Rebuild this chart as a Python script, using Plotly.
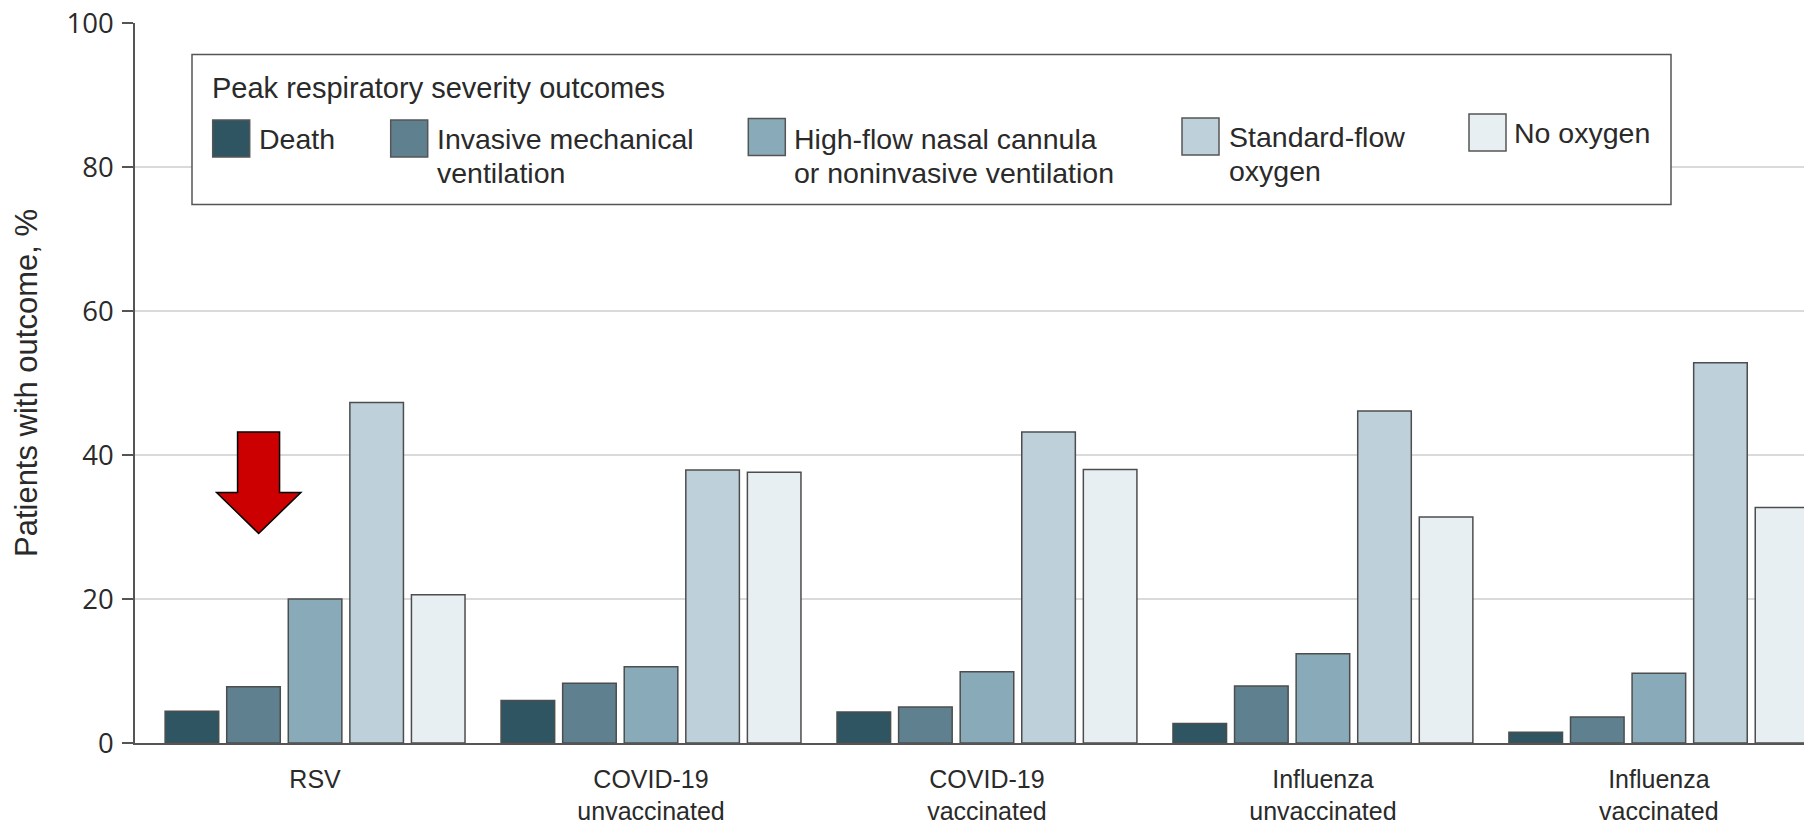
import plotly.graph_objects as go

# ---------------- data ----------------
categories = ["RSV", "COVID-19<br>unvaccinated", "COVID-19<br>vaccinated",
              "Influenza<br>unvaccinated", "Influenza<br>vaccinated"]
outcomes = ["Death", "Invasive mechanical ventilation",
            "High-flow nasal cannula or noninvasive ventilation",
            "Standard-flow oxygen", "No oxygen"]
death = [4.4, 5.9, 4.3, 2.7, 1.5]
invasive_ventilation = [7.8, 8.3, 5.0, 7.9, 3.6]
high_flow = [20.0, 10.6, 9.9, 12.4, 9.7]
standard_flow = [47.3, 37.9, 43.2, 46.1, 52.8]
no_oxygen = [20.6, 37.6, 38.0, 31.4, 32.7]
y_ticks = [0, 20, 40, 60, 80, 100]
legend_title = "Peak respiratory severity outcomes"
legend_lines = [["Death"], ["Invasive mechanical", "ventilation"],
                ["High-flow nasal cannula", "or noninvasive ventilation"],
                ["Standard-flow", "oxygen"], ["No oxygen"]]
y_title = "Patients with outcome, %"

# ---------------- style ----------------
colors = ["#2f5562", "#5f808f", "#89aab9", "#bed1db", "#e8eff2"]
edge = "#4d4d4d"
text_col = "#2a2a2a"
W, H = 1804, 827
ML, MR, MT, MB = 135, 0, 23, 84.3
PW, PH = W - ML - MR, H - MT - MB
cond_font = "Liberation Sans, Arial, sans-serif"


def px2x(px):
    return (px - ML) / PW


def px2y(py):
    return (H - MB - py) / PH


series = [death, invasive_ventilation, high_flow, standard_flow, no_oxygen]
xpos = list(range(len(categories)))

fig = go.Figure()
for name, vals, col in zip(outcomes, series, colors):
    fig.add_trace(go.Bar(x=xpos, y=vals, name=name,
                         marker=dict(color=col, line=dict(color=edge, width=1.5)),
                         showlegend=False))

shapes = []
annotations = []

# legend box
shapes.append(dict(type="rect", xref="paper", yref="paper",
                   x0=px2x(192), x1=px2x(1671), y0=px2y(204.5), y1=px2y(54.5),
                   line=dict(color="#555555", width=1.5), fillcolor="white", layer="above"))
annotations.append(dict(xref="paper", yref="paper", x=px2x(210), y=px2y(88),
                        xanchor="left", yanchor="middle", showarrow=False,
                        text=legend_title, font=dict(family=cond_font, size=29, color=text_col)))
sw_x = [212.7, 390.7, 748.3, 1182, 1469]
sw_top = [120, 120, 118.5, 118, 114]
sw = 37
tx_x = [257, 435, 792, 1227, 1512]
tx_mid = [139, 139, 139, 137, 133]
for i in range(len(outcomes)):
    shapes.append(dict(type="rect", xref="paper", yref="paper",
                       x0=px2x(sw_x[i]), x1=px2x(sw_x[i] + sw),
                       y0=px2y(sw_top[i] + sw), y1=px2y(sw_top[i]),
                       fillcolor=colors[i], line=dict(color="#555555", width=1.5),
                       layer="above"))
    for j, line in enumerate(legend_lines[i]):
        annotations.append(dict(xref="paper", yref="paper", x=px2x(tx_x[i]),
                                y=px2y(tx_mid[i] + 34 * j), xanchor="left", yanchor="middle",
                                showarrow=False, text=line,
                                font=dict(family=cond_font, size=28.5, color=text_col)))

# red arrow (data coordinates around the RSV group)
arrow_path = ("M -0.2307,43.2 L -0.1057,43.2 L -0.1057,34.8 L -0.0423,34.8 "
              "L -0.1679,29.1 L -0.2932,34.8 L -0.2307,34.8 Z")
shapes.append(dict(type="path", xref="x", yref="y", path=arrow_path,
                   fillcolor="#cc0000", line=dict(color="black", width=1.5), layer="above"))

fig.update_layout(
    width=W, height=H,
    margin=dict(l=ML, r=MR, t=MT, b=MB, pad=0),
    paper_bgcolor="white", plot_bgcolor="white",
    barmode="group", bargap=0.0835, bargroupgap=0.13,
    shapes=shapes, annotations=annotations,
    font=dict(family=cond_font, color=text_col),
)
fig.update_xaxes(range=[-0.536, 4.432], tickvals=xpos, ticktext=categories,
                 showline=True, linecolor="#555555", linewidth=1.5,
                 showgrid=False, zeroline=False, ticks="", automargin=False,
                 tickfont=dict(family=cond_font, size=25, color=text_col),
                 ticklabelstandoff=13)
fig.update_yaxes(range=[0, 100], tickvals=y_ticks, showgrid=True,
                 gridcolor="#dadada", gridwidth=2, zeroline=False,
                 showline=True, linecolor="#555555", linewidth=1.5,
                 ticks="outside", ticklen=11, tickcolor="#555555", tickwidth=1.5,
                 automargin=False,
                 tickfont=dict(family="Open Sans, DejaVu Sans, sans-serif", size=27.5, color=text_col),
                 ticklabelstandoff=3,
                 title=dict(text=y_title, standoff=20,
                            font=dict(family=cond_font, size=31, color=text_col)))

fig.write_html("out.html", config={"displayModeBar": False},
               post_script="document.body.style.margin='0px';document.body.style.padding='0px';")
